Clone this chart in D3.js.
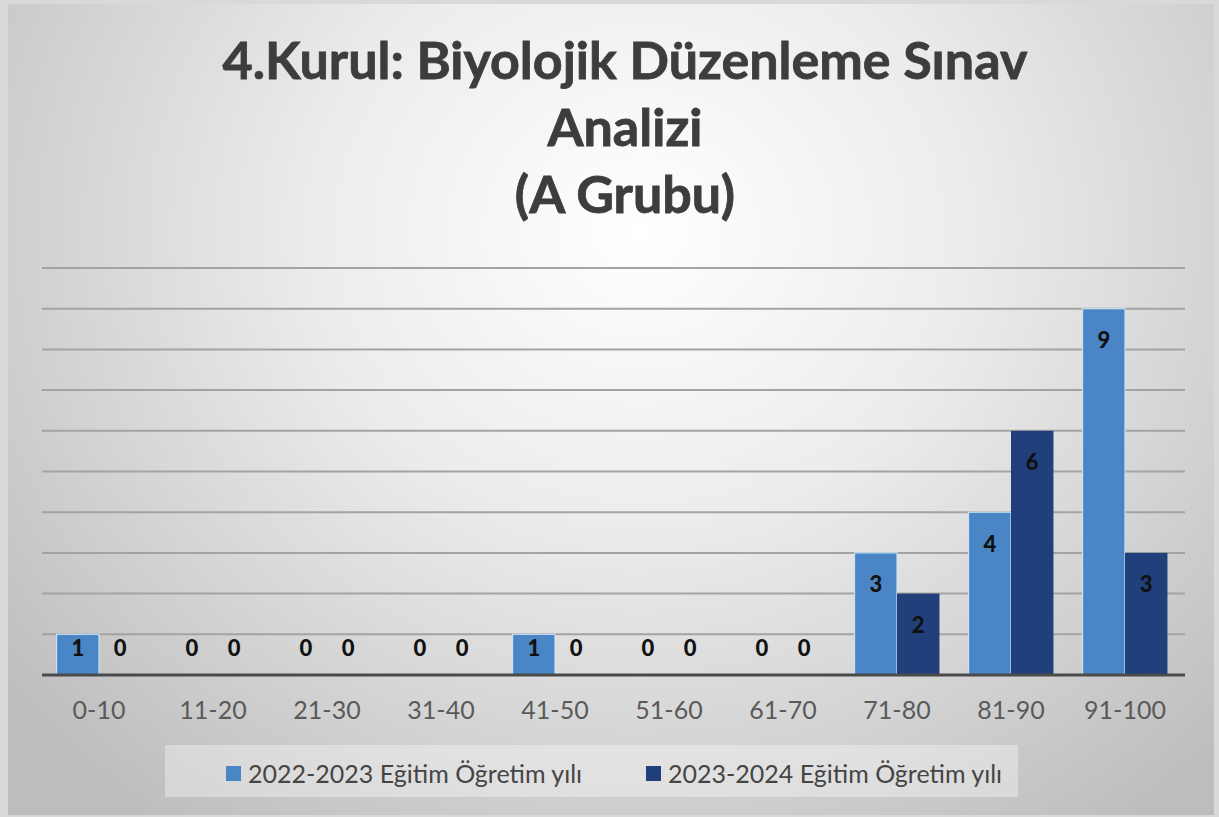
<!DOCTYPE html>
<html><head><meta charset="utf-8">
<script src="https://cdn.jsdelivr.net/npm/d3@7"></script>
<style>
html,body{margin:0;padding:0;background:#ffffff;}
svg{display:block;}
</style></head>
<body>
<svg id="chart" width="1219" height="817"></svg>
<script>
const titleLines = ["4.Kurul: Biyolojik Düzenleme Sınav", "Analizi", "(A Grubu)"];
const categories = ["0-10","11-20","21-30","31-40","41-50","51-60","61-70","71-80","81-90","91-100"];
const seriesNames = ["2022-2023 Eğitim Öğretim yılı", "2023-2024 Eğitim Öğretim yılı"];
const values2022 = [1,0,0,0,1,0,0,3,4,9];
const values2023 = [0,0,0,0,0,0,0,2,6,3];
const seriesColors = ["#4a86c6", "#21407b"];
const yTicks = [1,2,3,4,5,6,7,8,9,10];

const svg = d3.select("#chart");
const W = 1219, H = 817;
const defs = svg.append("defs");
const rg = defs.append("radialGradient").attr("id","bg")
  .attr("gradientUnits","userSpaceOnUse").attr("cx",640).attr("cy",230).attr("r",820)
  .attr("gradientTransform","translate(640,230) scale(1,0.9) translate(-640,-230)");
rg.append("stop").attr("offset",0).attr("stop-color","#ffffff");
rg.append("stop").attr("offset",0.4).attr("stop-color","#ececec");
rg.append("stop").attr("offset",1).attr("stop-color","#bdbdbd");

svg.append("rect").attr("x",0).attr("y",0).attr("width",W).attr("height",H).attr("fill","#d9d9d9");
svg.append("rect").attr("x",8).attr("y",4).attr("width",1206).attr("height",811).attr("fill","url(#bg)");

// title
const title = svg.append("text").attr("text-anchor","middle")
  .attr("font-family","Lato, 'Open Sans', sans-serif").attr("font-weight","bold")
  .attr("font-size",52).attr("fill","#3d3d3d")
  .attr("stroke","#3d3d3d").attr("stroke-width",0.8);
titleLines.forEach((t,i)=>{
  title.append("tspan").attr("x",625).attr("y",79 + i*67).text(t);
});

// scales
const x0 = d3.scaleBand().domain(categories).range([42,1182]).paddingInner(0.255).paddingOuter(0.1275);
const x1 = d3.scaleBand().domain([0,1]).range([0,x0.bandwidth()]);
const y = d3.scaleLinear().domain([0,10]).range([675,268]);

// gridlines
svg.append("g").selectAll("line").data(yTicks).join("line")
  .attr("x1",42).attr("x2",1185)
  .attr("y1",d=>y(d)).attr("y2",d=>y(d))
  .attr("stroke","#a3a3a3").attr("stroke-width",2);

const data = categories.map((c,i)=>({cat:c, vals:[values2022[i], values2023[i]]}));

const groups = svg.append("g").selectAll("g").data(data).join("g")
  .attr("transform",d=>`translate(${x0(d.cat)},0)`);

groups.selectAll("rect").data(d=>d.vals.map((v,k)=>({v,k}))).join("rect")
  .attr("x",d=>x1(d.k)).attr("width",x1.bandwidth())
  .attr("y",d=>y(d.v)).attr("height",d=>y(0)-y(d.v))
  .attr("fill",d=>seriesColors[d.k])
  .attr("stroke",d=>d.k===0?"#c9e2f7":"none").attr("stroke-width",1.2);

groups.selectAll("text").data(d=>d.vals.map((v,k)=>({v,k}))).join("text")
  .attr("x",d=>x1(d.k)+x1.bandwidth()/2)
  .attr("y",d=>Math.min(y(d.v)+31, y(0)-28))
  .attr("text-anchor","middle").attr("dominant-baseline","central")
  .attr("font-family","Lato, 'Open Sans', sans-serif").attr("font-weight","900")
  .attr("font-size",22).attr("fill","#111111")
  .text(d=>d.v);

// baseline axis
const xAxis = d3.axisBottom(x0).tickSize(0).tickPadding(26);
const ax = svg.append("g").attr("transform",`translate(0,${y(0)})`).call(xAxis);
ax.select(".domain").attr("stroke","#4a4a4a").attr("stroke-width",3).attr("d","M42,0H1185");
ax.selectAll("text").attr("font-family","Lato, 'Open Sans', sans-serif").attr("font-size",25)
  .attr("fill","#5a5a5a");

// legend
const lg = svg.append("g");
lg.append("rect").attr("x",165).attr("y",745).attr("width",853).attr("height",52)
  .attr("fill","#ffffff").attr("fill-opacity",0.35);
const legendX = [226, 646];
seriesNames.forEach((s,i)=>{
  lg.append("rect").attr("x",legendX[i]).attr("y",766).attr("width",15).attr("height",15)
    .attr("fill",seriesColors[i]);
  lg.append("text").attr("x",legendX[i]+22).attr("y",773).attr("dominant-baseline","central")
    .attr("font-family","Lato, 'Open Sans', sans-serif").attr("font-size",25).attr("fill","#454545")
    .text(s);
});
</script>
</body></html>
